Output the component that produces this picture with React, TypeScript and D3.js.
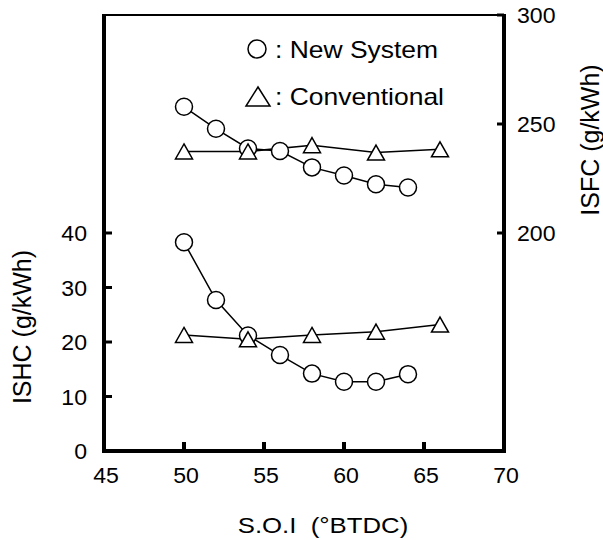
import React from "react";
import * as d3 from "d3";

// S.O.I (°BTDC) for each series
const soiNew = [50, 52, 54, 56, 58, 60, 62, 64];
const soiConv = [50, 54, 58, 62, 66];

// ISHC (g/kWh), left axis
const ishcNew = [38.3, 27.7, 21.2, 17.6, 14.2, 12.7, 12.7, 14.1];
const ishcConv = [21.3, 20.5, 21.3, 21.9, 23.2];

// ISFC (g/kWh), right axis
const isfcNew = [257.9, 247.8, 238.8, 237.6, 230.1, 226.4, 222.4, 220.9];
const isfcConv = [237.4, 237.4, 240.3, 236.9, 238.4];

const xTicks = [45, 50, 55, 60, 65, 70];
const leftTicks = [0, 10, 20, 30, 40];
const rightTicks = [200, 250, 300];

const width = 603;
const height = 540;
const left = 104;
const right = 504;
const top = 15;
const bottom = 451;

const font = "'Liberation Sans', Arial, sans-serif";

// horizontal stretch used by the original figure's text
const Txt = ({ x, y, size, sx = 1, anchor = "start", children }: any) => (
  <text
    transform={`translate(${x},${y}) scale(${sx},1)`}
    fontSize={size}
    fontFamily={font}
    textAnchor={anchor}
    fill="#000"
  >
    {children}
  </text>
);

const triPath = (w: number, h: number) =>
  `M0,${-h / 2}L${w / 2},${h / 2}L${-w / 2},${h / 2}Z`;

export default function App() {
  const x = d3.scaleLinear().domain([45, 70]).range([left, right]);
  const yL = d3.scaleLinear().domain([0, 80]).range([bottom, top]);
  const yR = d3.scaleLinear().domain([100, 300]).range([bottom, top]);

  const mk = (xs: number[], ys: number[]) => xs.map((v, i) => [v, ys[i]]);
  const lineL = d3.line<number[]>().x((d) => x(d[0])).y((d) => yL(d[1]));
  const lineR = d3.line<number[]>().x((d) => x(d[0])).y((d) => yR(d[1]));

  const series = [
    { pts: mk(soiNew, ishcNew), y: yL, line: lineL, kind: "circle" },
    { pts: mk(soiNew, isfcNew), y: yR, line: lineR, kind: "circle" },
    { pts: mk(soiConv, ishcConv), y: yL, line: lineL, kind: "tri" },
    { pts: mk(soiConv, isfcConv), y: yR, line: lineR, kind: "tri" },
  ];

  return (
    <svg
      width={width}
      height={height}
      style={{ position: "absolute", left: 0, top: 0, background: "#fff" }}
    >
      <rect width={width} height={height} fill="#fff" />

      {/* frame */}
      <line x1={left} x2={right} y1={top} y2={top} stroke="#000" strokeWidth={2} />
      <line x1={left} x2={left} y1={top - 1} y2={bottom + 2} stroke="#000" strokeWidth={4} />
      <line x1={right} x2={right} y1={top - 1} y2={bottom + 2} stroke="#000" strokeWidth={4} />
      <line x1={left - 2} x2={right + 2} y1={bottom} y2={bottom} stroke="#000" strokeWidth={4} />

      {/* x ticks */}
      {xTicks.map((t) => (
        <g key={"x" + t}>
          <line x1={x(t)} x2={x(t)} y1={bottom} y2={bottom - 9} stroke="#000" strokeWidth={4} />
          <Txt x={x(t) + 2} y={483} size={22} sx={1.05} anchor="middle">
            {t}
          </Txt>
        </g>
      ))}

      {/* left ticks */}
      {leftTicks.map((t) => (
        <g key={"l" + t}>
          <line x1={left} x2={left + 8} y1={yL(t)} y2={yL(t)} stroke="#000" strokeWidth={3} />
          <Txt x={87} y={yL(t) + 8} size={22} sx={1.05} anchor="end">
            {t}
          </Txt>
        </g>
      ))}

      {/* right ticks */}
      {rightTicks.map((t) => (
        <g key={"r" + t}>
          <line x1={right} x2={right - 7} y1={yR(t)} y2={yR(t)} stroke="#000" strokeWidth={3} />
          <Txt x={517} y={yR(t) + 8} size={22} sx={1.05}>
            {t}
          </Txt>
        </g>
      ))}

      {/* axis titles */}
      <Txt x={323} y={533} size={23} sx={1.12} anchor="middle">
        {"S.O.I\u00A0 (°BTDC)"}
      </Txt>
      <text
        transform="translate(31,327) rotate(-90)"
        fontSize={25}
        fontFamily={font}
        textAnchor="middle"
      >
        ISHC (g/kWh)
      </text>
      <text
        transform="translate(599,140) rotate(-90)"
        fontSize={25}
        fontFamily={font}
        textAnchor="middle"
      >
        ISFC (g/kWh)
      </text>

      {/* lines */}
      {series.map((s, i) => (
        <path key={"p" + i} d={s.line(s.pts) || ""} fill="none" stroke="#000" strokeWidth={1.5} />
      ))}

      {/* markers */}
      {series.map((s, i) =>
        s.pts.map((d, j) =>
          s.kind === "circle" ? (
            <circle
              key={`c${i}-${j}`}
              cx={x(d[0])}
              cy={s.y(d[1])}
              r={8.5}
              fill="#fff"
              stroke="#000"
              strokeWidth={1.5}
            />
          ) : (
            <path
              key={`t${i}-${j}`}
              transform={`translate(${x(d[0])},${s.y(d[1])})`}
              d={triPath(17, 15)}
              fill="#fff"
              stroke="#000"
              strokeWidth={1.5}
            />
          )
        )
      )}

      {/* legend */}
      <circle cx={257} cy={49} r={9} fill="#fff" stroke="#000" strokeWidth={1.5} />
      <Txt x={275} y={58} size={23} sx={1.15}>
        : New System
      </Txt>
      <path
        transform="translate(258,96.5)"
        d={triPath(24, 19)}
        fill="#fff"
        stroke="#000"
        strokeWidth={1.5}
      />
      <Txt x={275} y={105} size={23} sx={1.15}>
        : Conventional
      </Txt>
    </svg>
  );
}
